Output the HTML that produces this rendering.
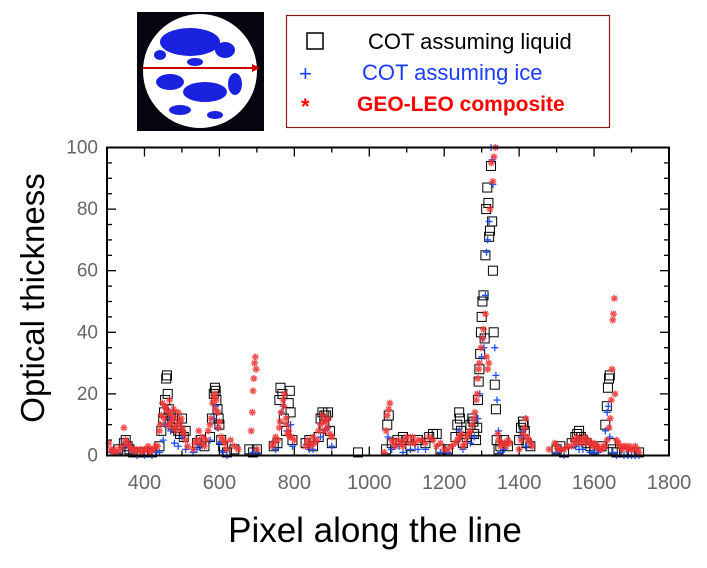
<!DOCTYPE html>
<html><head><meta charset="utf-8"><style>
html,body{margin:0;padding:0;background:#fff;}
body{width:707px;height:563px;position:relative;overflow:hidden;font-family:"Liberation Sans",sans-serif;}
</style></head><body>
<svg id="chart" width="707" height="563" viewBox="0 0 707 563" xmlns="http://www.w3.org/2000/svg">
  <g>
    <rect x="137" y="12" width="127" height="119" fill="#05050f"/>
    <circle cx="200" cy="71" r="57" fill="#fff"/>
    <ellipse cx="190" cy="42" rx="30" ry="14" fill="#1a22e0"/>
    <ellipse cx="225" cy="50" rx="10" ry="8" fill="#1a22e0"/>
    <ellipse cx="170" cy="82" rx="14" ry="8" fill="#1a22e0"/>
    <ellipse cx="205" cy="92" rx="22" ry="10" fill="#1a22e0"/>
    <ellipse cx="235" cy="84" rx="7" ry="11" fill="#1a22e0"/>
    <ellipse cx="180" cy="110" rx="11" ry="5" fill="#1a22e0"/>
    <ellipse cx="215" cy="115" rx="8" ry="4" fill="#1a22e0"/>
    <ellipse cx="160" cy="55" rx="6" ry="5" fill="#1a22e0"/>
    <ellipse cx="195" cy="62" rx="8" ry="4" fill="#1a22e0"/>
    <line x1="143" y1="68" x2="252" y2="68" stroke="#c00" stroke-width="2"/>
    <polygon points="252,64 260,68 252,72" fill="#c00"/>
  </g>
  <g>
    <rect x="286.5" y="15.5" width="323" height="112" fill="#fff" stroke="#8b1a1a" stroke-width="1.2"/>
    <rect x="307" y="33" width="16" height="16" fill="none" stroke="#000" stroke-width="1.5"/>
    <text x="368" y="49" font-size="22" fill="#000">COT assuming liquid</text>
    <text x="299" y="81" font-size="22" fill="#1a3cff">+</text>
    <text x="362" y="80" font-size="22" fill="#1a3cff">COT assuming ice</text>
    <text x="301" y="114" font-size="22" fill="#f00" font-weight="bold">*</text>
    <text x="357" y="111" font-size="21" fill="#f00" font-weight="bold">GEO-LEO composite</text>
  </g>
  <g id="plot"></g>
  <text transform="translate(44,298) rotate(-90)" text-anchor="middle" font-size="33" fill="#000">Optical thickness</text>
  <text x="375" y="542" text-anchor="middle" font-size="35" fill="#000">Pixel along the line</text>
</svg>
<script>
const xTicks=[400,600,800,1000,1200,1400,1600,1800];
const yTicks=[0,20,40,60,80,100];
const liquidPoints=[[330,2],[345,4],[350,5],[355,3],[360,2],[370,1],[385,1],[400,1],[420,1],[440,3],[445,8],[450,12],[455,18],[458,25],[460,26],[462,20],[465,15],[470,13],[475,10],[480,12],[490,8],[500,12],[505,6],[510,8],[540,4],[550,5],[560,3],[575,6],[580,12],[585,20],[588,22],[590,21],[595,15],[600,10],[605,5],[610,3],[620,1],[640,2],[680,2],[690,1],[700,2],[745,3],[755,4],[760,18],[763,22],[768,20],[772,12],[778,8],[785,17],[788,21],[790,14],[795,5],[830,4],[840,5],[850,3],[865,6],[870,12],[875,14],[880,10],[885,13],[890,14],[895,8],[900,4],[970,1],[1045,2],[1048,10],[1052,13],[1060,4],[1075,5],[1090,6],[1110,3],[1130,5],[1150,4],[1170,7],[1190,2],[1210,2],[1230,6],[1235,10],[1240,14],[1245,8],[1250,4],[1260,6],[1270,10],[1275,12],[1280,7],[1285,5],[1288,9],[1290,18],[1292,24],[1294,28],[1296,33],[1298,40],[1300,45],[1302,50],[1305,52],[1308,38],[1310,65],[1312,80],[1315,87],[1318,82],[1320,71],[1322,73],[1325,94],[1328,76],[1330,60],[1332,40],[1335,23],[1338,15],[1340,5],[1345,2],[1350,3],[1360,5],[1370,3],[1400,5],[1405,9],[1410,11],[1415,8],[1420,4],[1430,3],[1500,2],[1510,3],[1520,1],[1540,4],[1550,6],[1560,8],[1570,5],[1580,4],[1590,3],[1600,2],[1620,3],[1630,10],[1634,16],[1637,22],[1640,25],[1642,26],[1645,4],[1650,2],[1660,1],[1680,1],[1700,1],[1720,1],[452,14],[468,11],[485,9],[495,7],[592,18],[598,12],[880,13],[1100,5],[1160,6],[1180,7],[1242,12],[1278,11],[1412,10],[1555,7],[1565,6]];
const icePoints=[[310,1],[330,1],[350,3],[370,1],[400,0],[420,0],[440,1],[450,5],[455,10],[460,15],[465,12],[470,8],[480,4],[490,3],[500,6],[510,2],[540,2],[550,3],[575,5],[585,12],[590,16],[595,9],[600,4],[610,1],[690,1],[700,1],[750,2],[765,14],[770,16],[780,8],[790,10],[795,3],[840,2],[850,2],[870,6],[880,8],[890,9],[900,3],[1050,6],[1060,2],[1080,3],[1110,2],[1150,2],[1190,1],[1240,8],[1250,2],[1270,4],[1280,6],[1290,12],[1295,20],[1300,32],[1303,38],[1306,35],[1310,52],[1313,66],[1316,70],[1320,76],[1325,100],[1328,96],[1330,88],[1335,35],[1338,26],[1341,18],[1345,8],[1350,1],[1360,2],[1405,6],[1410,8],[1420,3],[1500,1],[1520,0],[1550,3],[1570,2],[1600,1],[1630,8],[1635,14],[1638,16],[1642,6],[1650,1],[1680,0],[1700,0],[1720,0],[380,0],[430,1],[530,1],[620,0],[1090,1],[1130,2],[1210,1],[1560,2],[1590,1],[1610,1],[1660,0],[1690,0],[1710,0]];
const compositePoints=[[305,4],[320,2],[340,3],[345,9],[350,5],[355,4],[365,2],[380,2],[400,2],[420,2],[430,3],[440,8],[445,13],[448,17],[452,12],[458,15],[462,10],[467,18],[470,13],[475,9],[480,12],[485,8],[490,14],[495,11],[500,9],[505,7],[510,5],[530,2],[540,5],[545,8],[550,4],[560,3],[570,8],[578,12],[582,17],[588,20],[592,18],[596,14],[600,11],[605,6],[615,4],[630,5],[650,2],[685,8],[688,14],[690,21],[692,25],[694,30],[696,32],[698,28],[700,2],[740,3],[755,5],[760,9],[765,14],[770,18],[774,20],[778,12],[782,7],[788,6],[800,5],[830,3],[840,4],[850,6],[860,5],[870,10],[875,13],[880,8],[885,11],[890,12],[900,6],[1040,1],[1045,8],[1048,13],[1052,15],[1055,17],[1060,5],[1070,3],[1085,4],[1100,6],[1120,4],[1140,5],[1160,6],[1180,3],[1200,2],[1230,4],[1240,6],[1250,3],[1265,7],[1275,10],[1282,14],[1286,18],[1290,25],[1294,30],[1298,35],[1302,38],[1305,41],[1310,46],[1313,32],[1316,28],[1319,30],[1322,80],[1326,95],[1330,89],[1333,97],[1337,100],[1343,7],[1350,3],[1360,4],[1370,5],[1400,2],[1410,7],[1418,12],[1422,6],[1430,4],[1480,2],[1495,4],[1510,2],[1530,3],[1550,4],[1570,5],[1590,4],[1610,3],[1620,2],[1630,3],[1640,9],[1643,12],[1646,18],[1648,28],[1650,44],[1652,46],[1654,51],[1656,20],[1660,5],[1680,3],[1700,2],[1720,1],
[310,2],[315,1],[325,1],[335,2],[360,3],[370,2],[375,1],[390,2],[395,1],[405,2],[410,3],[415,1],[425,2],[435,3],[442,10],[455,16],[465,14],[472,11],[478,15],[488,10],[498,12],[503,8],[515,3],[535,4],[555,6],[565,5],[575,10],[585,19],[590,15],[598,9],[610,5],[620,2],[640,3],[745,4],[750,6],[762,11],[772,16],[780,10],[785,8],[792,6],[835,5],[845,3],[855,4],[865,8],[878,11],[888,9],[895,7],[1065,4],[1078,5],[1090,3],[1095,5],[1110,4],[1115,6],[1130,5],[1150,4],[1170,5],[1190,4],[1210,2],[1220,3],[1235,5],[1245,7],[1255,4],[1260,6],[1270,8],[1280,12],[1288,20],[1292,28],[1345,5],[1355,4],[1365,3],[1375,4],[1405,5],[1415,9],[1425,5],[1435,3],[1500,3],[1505,2],[1520,2],[1540,3],[1545,5],[1555,6],[1560,5],[1565,4],[1575,6],[1580,4],[1585,5],[1595,3],[1600,4],[1605,3],[1615,2],[1625,3],[1635,5],[1665,4],[1670,3],[1675,2],[1685,3],[1690,2],[1695,3],[1705,2],[1710,3],[1715,2]];

const X0=107,X1=669,Y0=455.5,Y1=147.5,XMIN=300,XMAX=1800,YMIN=0,YMAX=100;
const sx=v=>X0+(v-XMIN)/(XMAX-XMIN)*(X1-X0);
const sy=v=>Y0-(v-YMIN)/(YMAX-YMIN)*(Y0-Y1);
const NS="http://www.w3.org/2000/svg";
const plot=document.getElementById('plot');
function mk(tag,attrs,parent){const e=document.createElementNS(NS,tag);for(const k in attrs)e.setAttribute(k,attrs[k]);(parent||plot).appendChild(e);return e;}

for(let v=YMIN;v<=YMAX;v+=5){
  const major=v%20===0, len=major?9:5;
  const t1=mk('line',{x1:X0,x2:X0+len,y1:sy(v),y2:sy(v),stroke:'#000','stroke-width':1.3});
  
  
  const t2=mk('line',{x1:X1,x2:X1-len,y1:sy(v),y2:sy(v),stroke:'#000','stroke-width':1.3});
  
  
}
for(let v=XMIN;v<=XMAX;v+=100){
  const major=(v%200===0), len=major?9:5;
  const t1=mk('line',{x1:sx(v),x2:sx(v),y1:Y0,y2:Y0-len,stroke:'#000','stroke-width':1.3});
  
  
  const t2=mk('line',{x1:sx(v),x2:sx(v),y1:Y1,y2:Y1+len,stroke:'#000','stroke-width':1.3});
  
  
}
xTicks.forEach(v=>{
  const t=mk('text',{x:sx(v),y:489,'text-anchor':'middle','font-size':20,fill:'#666'});
  t.textContent=v;
  
  
});
yTicks.forEach(v=>{
  const t=mk('text',{x:98,y:sy(v)+6,'text-anchor':'end','font-size':19,fill:'#666'});
  t.textContent=v;
  
  
});

liquidPoints.forEach(p=>{
  const r=mk('rect',{x:sx(p[0])-4.5,y:sy(p[1])-4.5,width:9,height:9,fill:'none',stroke:'#000','stroke-width':1});
  
  
});
icePoints.forEach(p=>{
  const x=sx(p[0]),y=sy(p[1]);
  const g=mk('path',{d:`M${x-3.5},${y}H${x+3.5}M${x},${y-3.5}V${y+3.5}`,stroke:'#1a4fff','stroke-width':1.3,fill:'none'});
  
  
});
compositePoints.forEach(p=>{
  const x=sx(p[0]),y=sy(p[1]),r=3.5;
  const d=`M${x-r},${y}H${x+r}M${x},${y-r}V${y+r}M${x-2.5},${y-2.5}L${x+2.5},${y+2.5}M${x-2.5},${y+2.5}L${x+2.5},${y-2.5}`;
  const g=mk('path',{d:d,stroke:'#ee3333','stroke-width':1.4,fill:'none','stroke-opacity':0.85});
  
  
});
const frame=mk('rect',{x:X0,y:Y1,width:X1-X0,height:Y0-Y1,fill:'none',stroke:'#000','stroke-width':2});


</script>
</body></html>
